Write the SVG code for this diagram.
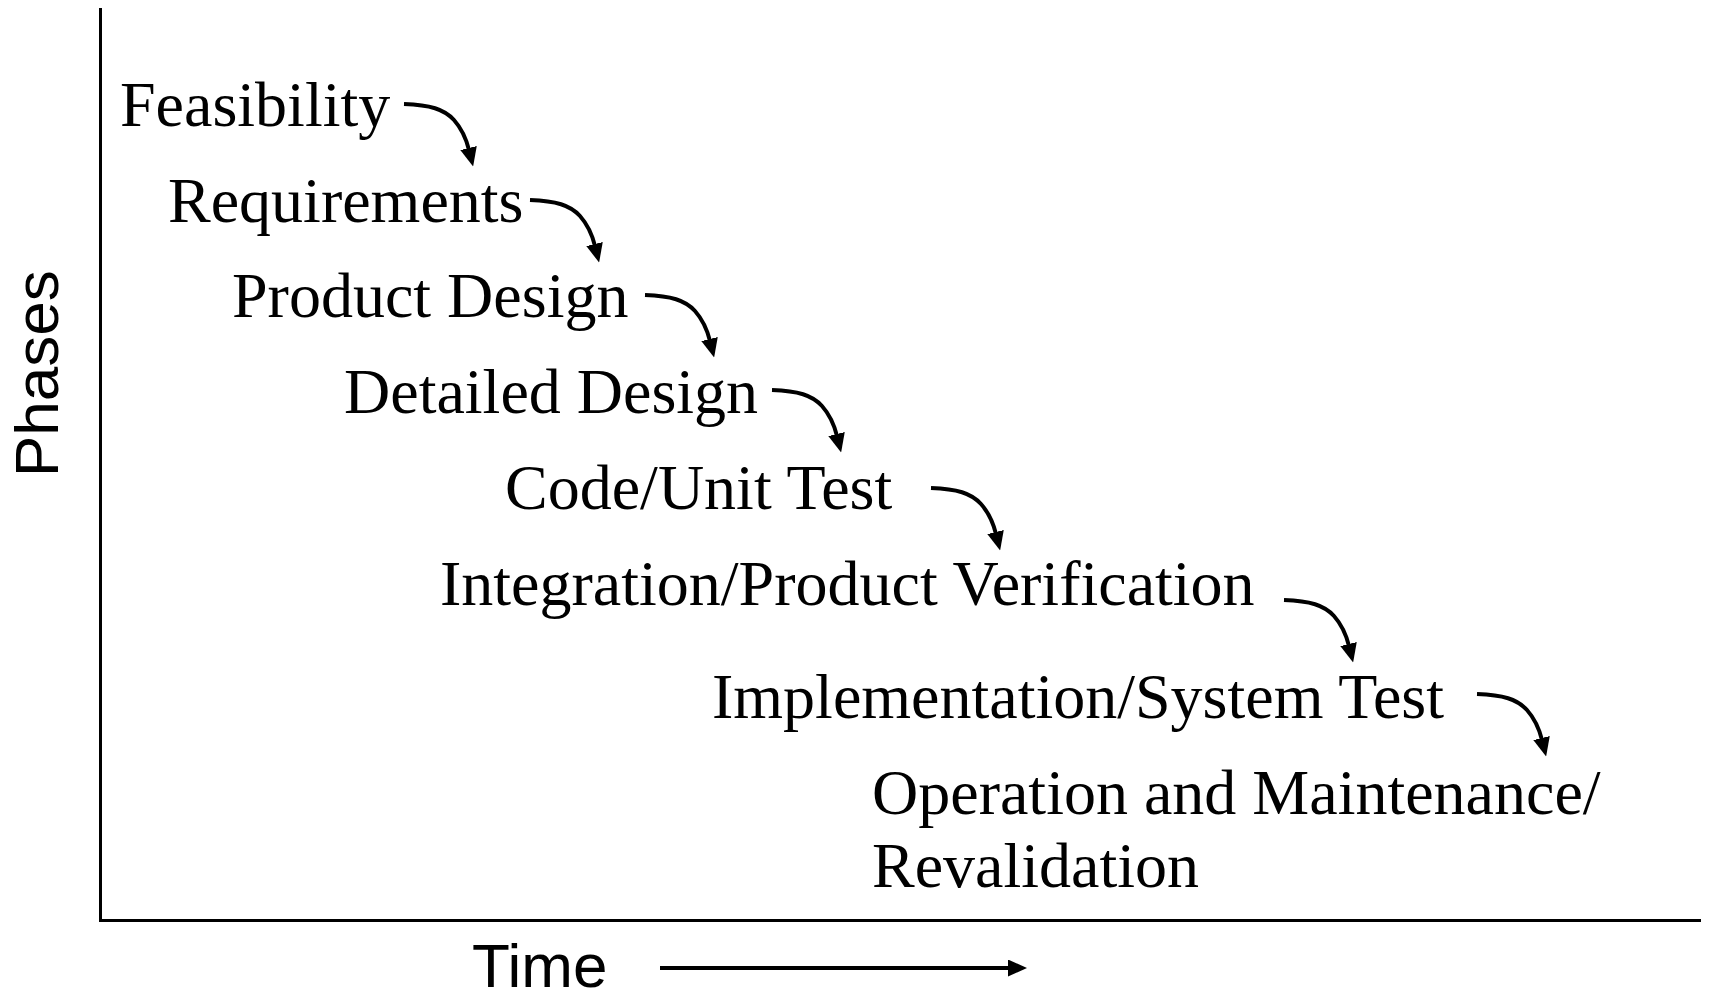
<svg xmlns="http://www.w3.org/2000/svg" width="1713" height="994" viewBox="0 0 1713 994">
  <style>
    .phase { font-family: "Liberation Serif", "Times New Roman", serif; font-size: 64px; fill: #000; }
    .axis-label { font-family: "Liberation Sans", Arial, sans-serif; font-size: 62px; fill: #000; }
    .axis { stroke: #000; stroke-width: 3; fill: none; }
    .flow { stroke: #000; stroke-width: 4; fill: none; marker-end: url(#head); }
  </style>
  <defs>
    <marker id="head" markerUnits="userSpaceOnUse" markerWidth="19" markerHeight="17" viewBox="0 0 19 17" refX="2" refY="8.5" orient="auto">
      <path d="M0,0 L19,8.5 L0,17 z" fill="#000"/>
    </marker>
    <!-- curved step connector, drawn from its start point -->
    <path id="step" d="M0,0 C26,1 40,5 50,16 C58,25 62,34 65,46"/>
  </defs>

  <rect width="1713" height="994" fill="#fff"/>

  <!-- axes -->
  <g id="axes">
    <line class="axis" x1="100.5" y1="8" x2="100.5" y2="921"/>
    <line class="axis" x1="99" y1="920.5" x2="1701" y2="920.5"/>
  </g>

  <g id="axis-phases">
    <text class="axis-label" transform="translate(58,477) rotate(-90)">Phases</text>
  </g>
  <g id="axis-time">
    <text class="axis-label" x="472" y="987">Time</text>
  </g>

  <!-- phases -->
  <g id="feasibility"><text class="phase" x="120" y="126">Feasibility</text></g>
  <g id="requirements"><text class="phase" x="168" y="222">Requirements</text></g>
  <g id="product-design"><text class="phase" x="232" y="317">Product Design</text></g>
  <g id="detailed-design"><text class="phase" x="344" y="413">Detailed Design</text></g>
  <g id="code-unit-test"><text class="phase" x="505" y="509">Code/Unit Test</text></g>
  <g id="integration"><text class="phase" x="440" y="605">Integration/Product Verification</text></g>
  <g id="implementation"><text class="phase" x="712" y="718">Implementation/System Test</text></g>
  <g id="operation">
    <text class="phase" x="872" y="814">Operation and Maintenance/</text>
    <text class="phase" x="872" y="887">Revalidation</text>
  </g>

  <!-- connectors -->
  <g id="connectors">
    <use href="#step" class="flow" x="404" y="104"/>
    <use href="#step" class="flow" x="530" y="200"/>
    <use href="#step" class="flow" x="645" y="295"/>
    <use href="#step" class="flow" x="772" y="390"/>
    <use href="#step" class="flow" x="931" y="488"/>
    <use href="#step" class="flow" x="1284" y="600"/>
    <use href="#step" class="flow" x="1477" y="694"/>
    <line class="flow" x1="660" y1="968" x2="1010" y2="968"/>
  </g>
</svg>
